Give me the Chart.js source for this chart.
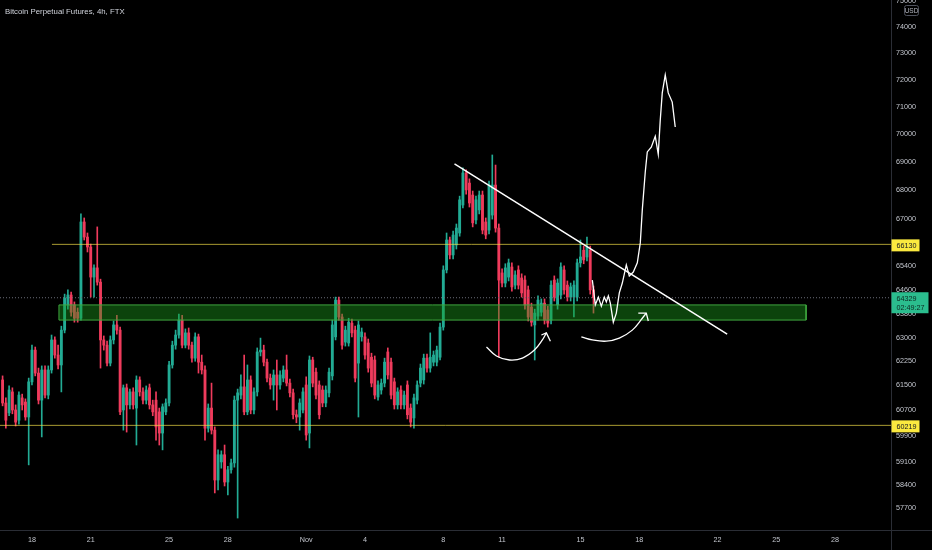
<!DOCTYPE html>
<html>
<head>
<meta charset="utf-8">
<script src="https://cdn.jsdelivr.net/npm/chart.js@4.4.0/dist/chart.umd.min.js"></script>
<style>
html,body{margin:0;padding:0;background:#000;}
#wrap{position:relative;width:932px;height:550px;background:#000;}
canvas{display:block;}
</style>
</head>
<body>
<div id="wrap"><canvas id="c" width="932" height="550"></canvas></div>
<script>
// ---------- data ----------
const chartTitle = 'Bitcoin Perpetual Futures, 4h, FTX';
const currency = 'USD';
// time axis unit: day of month counted from Oct (Nov d = 31 + d)
const firstCandleDay = 16.5;      // Oct 16, 12:00
const candleHours = 4;

const opens = [
61650,60920,60610,61270,60700,60380,61080,60950,60480,61590,
62610,61870,61010,61970,61170,61970,62940,62450,62130,63260,
64090,64420,64090,63850,63650,66900,66380,66040,65020,65330,
64850,62940,62770,62190,62940,63430,63260,60700,61400,60860,
61270,60760,61650,61270,61010,61400,60860,61010,60640,59980,
60640,60920,62130,62770,63100,63590,62770,63170,62770,62350,
63040,62220,61970,60130,60760,60070,58540,59090,59310,58480,
58850,59060,61010,61170,61430,60640,61650,60700,61270,62550,
62610,62220,61710,61490,61810,61490,61710,61970,61550,61240,
60550,
60480,60700,61490,59980,62290,61900,61490,61330,60920,61240,
61780,63040,64250,63690,62870,62840,63490,63260,62190,63040,
63040,62840,62380,62290,61110,61330,61550,62550,62220,61590,
60860,61330,60860,61490,60760,60450,61010,61550,61650,62350,
62030,62220,62220,62380,63360,65260,66280,65770,66110,66520,
67490,68620,68260,67840,66970,67320,67840,66900,66620,67140,
68190,66690,65160,64820,65020,65360,64750,65260,64990,64920,
64590,64020,63430,63720,63850,64150,63920,63590,64920,64090,
64420,65260,64750,64350,64350,64350,65500,65930,65700,65930,64590
];
const highs = [
61780,61080,61460,61400,60860,61270,61200,61050,61710,62770,
62710,62030,62100,62100,62100,63100,63040,62770,63390,64450,
64590,64520,64190,63990,67180,67040,66520,66140,65430,66730,
64950,63070,62900,63070,63560,63750,63360,61490,61520,61360,
61400,61780,61750,61400,61460,61520,61010,61270,60760,60890,
61050,62250,62900,63260,63790,63750,63300,63330,62870,63170,
63130,62450,62100,60890,61550,60170,59460,59430,59610,58960,
59180,61140,61360,61810,62450,62130,61780,61400,62680,63000,
62770,62320,61840,61970,62290,61940,62100,62450,61680,61360,
60700,
61050,61400,61750,62420,62380,62030,61620,61460,61460,62030,
63590,64350,64350,63790,63390,63650,63620,63390,63560,63330,
63170,62970,62510,62420,61620,61680,62350,62680,62350,61710,
61400,61460,61300,61620,60890,61200,61620,62160,62480,62480,
63170,62580,62740,63490,65400,66520,66380,66590,66830,67800,
68800,68730,68410,67980,67800,67980,67980,67040,68330,69260,
68900,66830,65300,65470,65630,65500,65230,65400,65130,65060,
64720,64150,63950,64390,64290,64290,64050,64890,65060,64960,
65500,65400,64890,64820,64890,65630,66280,66070,66380,66070,64720
];
const lows = [
60830,60130,60520,60580,60200,60260,60700,60380,59000,61490,
61780,60890,59860,61080,61050,61870,62350,62000,61270,63170,
63950,63720,63520,63520,63590,66280,65870,64350,64350,64750,
62030,62610,62100,62100,62810,63130,60550,60070,60010,60730,
60730,59610,61140,60890,60890,60730,60520,59760,59610,59460,
60550,60830,62030,62640,63000,62680,62680,62640,62220,62250,
61870,61840,59760,60010,59950,58150,58240,58900,58360,58090,
58750,58930,57400,61050,60550,60550,60580,60580,61140,62420,
62100,61590,61360,61010,60700,61360,61590,61460,61110,60420,
60300,
60070,60610,59760,59520,61430,61050,60420,60800,60800,61110,
61650,62940,63590,62640,62740,62740,63040,61590,60480,62900,
62320,61900,61430,61050,61010,61200,61430,61680,61050,60730,
60730,60730,60730,60420,60170,60130,60890,61430,61520,61900,
61900,62100,62100,62290,63260,65160,65630,65630,65970,66410,
67390,67870,67420,66730,66830,67180,66490,66320,66490,67000,
66550,62380,64690,64690,64890,64550,64620,64620,64350,63950,
63560,63390,62290,63590,63720,63460,63360,63460,64220,63950,
64290,64450,64220,64220,63690,64220,65360,65470,65570,64450,63820
];
const closes = [
60920,60380,61330,60700,60320,61170,60860,60480,61590,62610,
61870,61010,61970,61170,61970,62940,62450,62130,63260,64320,
64420,63850,63650,63650,66900,66380,66040,65020,65330,64850,
62940,62770,62190,62940,63430,63260,60640,61400,60860,61270,
60860,61650,61270,61010,61330,60860,60640,60170,59980,60800,
60920,62130,62770,63100,63590,62770,63170,62770,62350,63040,
62220,61970,60130,60760,60070,58540,59310,59310,58480,58850,
59060,61010,61240,61430,60640,61650,60700,61270,62550,62610,
62220,61710,61490,61810,61490,61810,61970,61550,61240,60550,
60480,
60920,61270,59920,62290,61550,61170,60550,60920,61330,61900,
63430,64250,63690,62770,63260,63520,63170,61710,63430,63200,
62450,62030,61550,61170,61490,61550,62220,61810,61170,60860,
61270,60860,61170,60550,60320,61080,61490,62030,62350,62030,
62380,62450,62610,63360,65260,66280,65770,66450,66690,67670,
68620,68020,67560,66870,67670,67840,66620,66450,68190,68190,
66690,64920,64820,65330,65500,64690,65090,64750,64490,64090,
63690,63520,63820,64250,64150,63590,63490,64750,64350,64820,
65360,64590,64350,64690,64750,65500,65700,65600,66040,64590,64329
];

const lastPrice = 64329;
const countdown = '02:49:27';

const priceTicks = [57700,58400,59100,59900,60700,61500,62250,63000,63800,64600,65400,67000,68000,69000,70000,71000,72000,73000,74000,75000];
const dateTickDays = [18,21,25,28,32,35,39,42,46,49,53,56,59];
const dateTickLabels = ['18','21','25','28','Nov','4','8','11','15','18','22','25','28'];

const levelHigh = 66130, levelHighStartDay = 19.02;
const levelLow = 60219;
const zoneTop = 64090, zoneBottom = 63590, zoneStartDay = 19.377, zoneEndDay = 57.52;

const trendDays = [39.571, 53.492];
const trendPrices = [68940, 63130];

const pathDays = [46.608,46.761,46.914,47.067,47.220,47.322,47.424,47.526,47.679,47.832,47.985,48.138,48.342,48.495,48.699,48.903,49.056,49.158,49.311,49.413,49.616,49.820,49.973,50.075,50.177,50.330,50.483,50.687,50.840];
const pathPrices = [64920,64090,64350,64050,64350,64190,64390,64150,63520,63820,64490,64820,65430,65060,65190,65500,66180,67320,68660,69370,69540,69930,69290,70520,71520,72190,71520,71180,70270];

const arc1Days = [41.203,41.712,42.375,43.038,43.650,44.058,44.262];
const arc1Prices = [62710,62420,62290,62350,62610,62940,63170];
const arrow1Days = [44.007,44.262,44.466];
const arrow1Prices = [63100,63170,62900];

const arc2Days = [46.047,46.608,47.322,47.985,48.648,49.158,49.362];
const arc2Prices = [63040,62940,62900,63000,63260,63650,63820];
const arrow2Days = [48.954,49.362,49.464];
const arrow2Prices = [63820,63820,63560];

// ---------- view ----------
const X_MIN = 16.368, X_MAX = 61.855;
const Y_MIN = 57046, Y_MAX = 75041;
const GREEN = '#22ab94', RED = '#ef3b5c';
const FONT = '"Liberation Sans", Arial, sans-serif';
const AXIS_TEXT = '#c3c6ce';

const candleX = closes.map((_, i) => firstCandleDay + i * candleHours / 24);
const candleColors = closes.map((c, i) => c >= opens[i] ? GREEN : RED);
const pts = (xs, ys) => xs.map((x, i) => ({x, y: ys[i]}));

const lineDs = (data, color, width, extra) => Object.assign({
  type: 'line', data, borderColor: color, borderWidth: width,
  pointRadius: 0, pointHoverRadius: 0, fill: false, tension: 0
}, extra || {});

const datasets = [
  { type: 'bar', label: 'wicks', order: 20,
    data: candleX.map((x, i) => ({x, y: [lows[i], highs[i]]})),
    backgroundColor: candleColors, barThickness: 1, grouped: false },
  { type: 'bar', label: 'bodies', order: 19,
    data: candleX.map((x, i) => ({x, y: [opens[i], closes[i]]})),
    backgroundColor: candleColors, barThickness: 2.2, grouped: false, minBarLength: 1 },
  lineDs(pts([zoneStartDay, zoneEndDay], [zoneTop, zoneTop]), 'rgba(0,0,0,0)', 0,
    { order: 10, fill: {value: zoneBottom}, backgroundColor: 'rgba(28,160,28,0.42)' }),
  lineDs(pts([zoneStartDay, zoneEndDay, zoneEndDay, zoneStartDay, zoneStartDay],
             [zoneTop, zoneTop, zoneBottom, zoneBottom, zoneTop]), '#3fa63f', 1, { order: 9 }),
  lineDs(pts([levelHighStartDay, X_MAX], [levelHigh, levelHigh]), 'rgba(240,220,70,0.7)', 1, { order: 8 }),
  lineDs(pts([X_MIN, X_MAX], [levelLow, levelLow]), 'rgba(240,220,70,0.7)', 1, { order: 8 }),
  lineDs(pts([X_MIN, X_MAX], [lastPrice, lastPrice]), '#6a6d77', 1, { order: 8, borderDash: [1, 2] }),
  lineDs(pts(trendDays, trendPrices), '#ffffff', 1.5, { order: 2 }),
  lineDs(pts(pathDays, pathPrices), '#ffffff', 1.3, { order: 1 }),
  lineDs(pts(arc1Days, arc1Prices), '#ffffff', 1.3, { order: 1, tension: 0.4 }),
  lineDs(pts(arrow1Days, arrow1Prices), '#ffffff', 1.3, { order: 1 }),
  lineDs(pts(arc2Days, arc2Prices), '#ffffff', 1.3, { order: 1, tension: 0.4 }),
  lineDs(pts(arrow2Days, arrow2Prices), '#ffffff', 1.3, { order: 1 })
];

function roundRect(ctx, x, y, w, h, r) {
  ctx.beginPath();
  ctx.moveTo(x + r, y);
  ctx.lineTo(x + w - r, y); ctx.quadraticCurveTo(x + w, y, x + w, y + r);
  ctx.lineTo(x + w, y + h - r); ctx.quadraticCurveTo(x + w, y + h, x + w - r, y + h);
  ctx.lineTo(x + r, y + h); ctx.quadraticCurveTo(x, y + h, x, y + h - r);
  ctx.lineTo(x, y + r); ctx.quadraticCurveTo(x, y, x + r, y);
  ctx.closePath();
}

const overlay = {
  id: 'overlay',
  afterDraw(chart) {
    const {ctx, chartArea: ca, scales: {y}} = chart;
    ctx.save();
    // axis borders
    ctx.strokeStyle = '#2a2d35';
    ctx.lineWidth = 1;
    ctx.beginPath();
    ctx.moveTo(0, Math.round(ca.bottom) + 0.5); ctx.lineTo(932, Math.round(ca.bottom) + 0.5);
    ctx.moveTo(Math.round(ca.right) + 0.5, 0); ctx.lineTo(Math.round(ca.right) + 0.5, 550);
    ctx.stroke();

    // title
    ctx.font = '7.8px ' + FONT;
    ctx.fillStyle = '#d1d4dc';
    ctx.textAlign = 'left';
    ctx.textBaseline = 'middle';
    ctx.fillText(chartTitle, 5, 12);

    // currency badge
    ctx.fillStyle = '#000';
    roundRect(ctx, 904.5, 5.5, 14, 10, 2);
    ctx.fill();
    ctx.strokeStyle = '#50535e';
    ctx.stroke();
    ctx.fillStyle = '#b2b5be';
    ctx.font = '6.5px ' + FONT;
    ctx.textAlign = 'center';
    ctx.fillText(currency, 911.5, 11);

    // price labels
    const lx = Math.round(ca.right) + 0.5;
    ctx.font = '7.2px ' + FONT;
    ctx.textAlign = 'left';
    [levelHigh, levelLow].forEach(v => {
      const py = y.getPixelForValue(v);
      ctx.fillStyle = '#fbe93f';
      ctx.fillRect(lx, py - 5, 28, 12);
      ctx.fillStyle = '#131722';
      ctx.fillText(String(v), lx + 5, py + 1.5);
    });
    const cy = y.getPixelForValue(lastPrice);
    ctx.fillStyle = '#2bbd8e';
    ctx.fillRect(lx, cy - 5.5, 37, 21);
    ctx.fillStyle = '#0d2a22';
    ctx.fillText(String(lastPrice), lx + 5, cy + 1);
    ctx.fillText(countdown, lx + 5, cy + 10.5);
    ctx.restore();
  }
};

new Chart(document.getElementById('c'), {
  type: 'bar',
  data: { datasets },
  plugins: [overlay],
  options: {
    responsive: false,
    maintainAspectRatio: false,
    animation: false,
    devicePixelRatio: 1,
    layout: { padding: 0 },
    plugins: { legend: { display: false }, tooltip: { enabled: false }, title: { display: false } },
    scales: {
      x: {
        type: 'linear', min: X_MIN, max: X_MAX, offset: false, bounds: 'data',
        grid: { display: false, drawTicks: false },
        border: { display: false },
        ticks: {
          autoSkip: false, maxRotation: 0, padding: 6,
          color: AXIS_TEXT, font: { size: 7.2, family: FONT },
          callback: (v, i) => dateTickLabels[i]
        },
        afterBuildTicks: s => { s.ticks = dateTickDays.map(v => ({ value: v })); },
        afterFit: s => { s.height = 20; s.paddingLeft = 0; s.paddingRight = 0; }
      },
      y: {
        type: 'logarithmic', position: 'right', min: Y_MIN, max: Y_MAX, bounds: 'data',
        grid: { display: false, drawTicks: false },
        border: { display: false },
        ticks: {
          autoSkip: false, padding: 5,
          color: AXIS_TEXT, font: { size: 7.2, family: FONT },
          callback: v => String(v)
        },
        afterBuildTicks: s => { s.ticks = priceTicks.map(v => ({ value: v })); },
        afterFit: s => { s.width = 41; s.paddingTop = 0; s.paddingBottom = 0; }
      }
    }
  }
});
</script>
</body>
</html>
